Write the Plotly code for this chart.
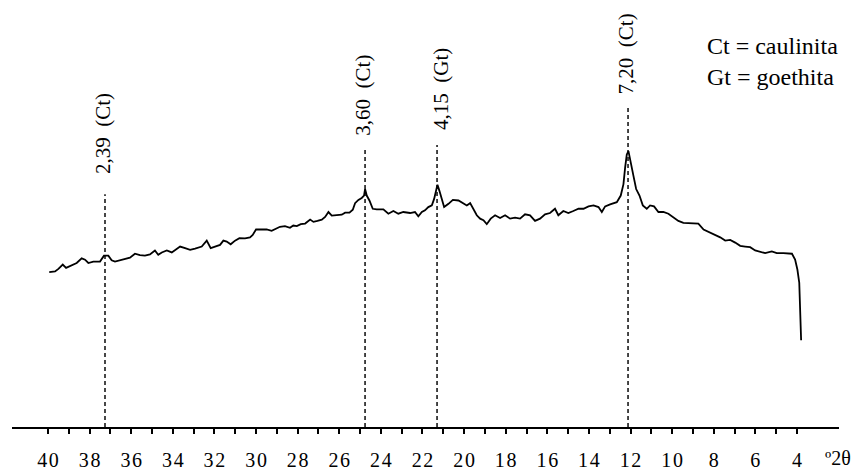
import plotly.graph_objects as go

# 2-theta (degrees) and intensity (arbitrary units)
two_theta = [39.94, 39.66, 39.50, 39.29, 39.13, 38.86, 38.62, 38.38, 38.22, 38.06,
             37.82, 37.50, 37.31, 37.10, 36.94, 36.78, 36.54, 36.30, 36.06, 35.82,
             35.58, 35.34, 35.10, 34.86, 34.70, 34.53, 34.29, 34.05, 33.85, 33.65,
             33.41, 33.17, 32.93, 32.61, 32.37, 32.18, 31.97, 31.73, 31.57, 31.41,
             31.22, 31.01, 30.80, 30.53, 30.29, 30.16, 30.00, 29.73, 29.49, 29.25,
             29.09, 28.85, 28.61, 28.37, 28.21, 28.04, 27.85, 27.64, 27.40, 27.24,
             27.05, 26.84, 26.68, 26.52, 26.36, 26.12, 25.88, 25.72, 25.51, 25.35,
             25.24, 25.08, 24.92, 24.81, 24.76, 24.68, 24.55, 24.39, 24.20, 23.88,
             23.64, 23.40, 23.16, 22.92, 22.60, 22.36, 22.20, 22.03, 21.88, 21.72,
             21.55, 21.44, 21.35, 21.28, 21.19, 21.07, 20.96, 20.75, 20.54, 20.27,
             20.03, 19.87, 19.71, 19.55, 19.39, 19.23, 19.07, 18.91, 18.72, 18.51,
             18.27, 18.03, 17.79, 17.55, 17.31, 17.07, 16.83, 16.59, 16.35, 16.11,
             15.87, 15.63, 15.47, 15.23, 14.99, 14.75, 14.50, 14.26, 14.02, 13.78,
             13.54, 13.38, 13.22, 12.98, 12.66, 12.47, 12.34, 12.26, 12.18, 12.10,
             11.99, 11.86, 11.73, 11.57, 11.41, 11.22, 11.06, 10.87, 10.66, 10.42,
             10.18, 9.94, 9.70, 9.46, 9.22, 8.98, 8.74, 8.49, 8.25, 7.93,
             7.69, 7.45, 7.21, 6.97, 6.73, 6.49, 6.25, 6.01, 5.77, 5.53,
             5.21, 4.97, 4.65, 4.24, 4.09, 3.98, 3.89, 3.85, 3.81, 3.80]
intensity = [157.0, 157.7, 160.3, 164.7, 161.3, 163.7, 166.3, 171.0, 169.7, 166.3,
             167.7, 167.7, 173.7, 173.7, 169.0, 167.7, 169.0, 171.0, 171.7, 175.7,
             174.3, 173.7, 175.0, 179.0, 174.7, 177.0, 179.0, 177.0, 179.7, 183.0,
             181.3, 179.7, 181.0, 183.0, 189.0, 181.3, 183.0, 184.7, 189.0, 188.0,
             185.3, 189.0, 191.5, 191.3, 192.3, 194.7, 200.3, 200.3, 200.3, 199.0,
             200.3, 203.0, 203.7, 202.0, 204.3, 203.7, 205.7, 206.3, 210.3, 208.0,
             209.0, 210.3, 213.0, 218.0, 214.3, 214.7, 215.3, 217.3, 217.3, 220.3,
             227.0, 230.3, 232.3, 234.7, 241.3, 234.7, 229.7, 221.3, 220.7, 220.7,
             216.3, 219.0, 216.3, 218.0, 217.0, 218.0, 213.7, 218.0, 219.7, 223.0,
             224.7, 231.3, 239.7, 245.7, 239.7, 231.3, 223.0, 226.3, 230.3, 229.7,
             227.0, 224.7, 227.0, 221.3, 214.7, 211.3, 209.7, 205.7, 211.3, 214.7,
             212.0, 214.7, 211.3, 212.3, 211.3, 215.7, 214.7, 209.0, 211.3, 215.7,
             217.0, 221.3, 214.7, 219.0, 217.0, 219.0, 221.3, 221.3, 223.7, 224.7,
             223.0, 218.0, 223.7, 225.7, 228.0, 234.7, 246.3, 263.0, 276.3, 279.7,
             269.7, 254.7, 241.3, 234.7, 224.7, 221.3, 224.7, 223.7, 218.0, 218.0,
             216.3, 213.0, 209.0, 207.0, 207.0, 206.3, 206.3, 200.3, 198.0, 194.7,
             192.3, 189.0, 189.7, 187.0, 183.7, 183.0, 182.3, 179.0, 178.0, 176.3,
             178.0, 176.3, 176.3, 175.7, 169.7, 159.7, 146.3, 126.3, 106.3, 88.0]

# Reflections (d-spacing labels), their 2-theta position and marker heights
peak_labels = ["2,39\u2002(Ct)", "3,60\u2002(Ct)", "4,15\u2002(Gt)", "7,20\u2002(Ct)"]
peak_positions = [37.26, 24.76, 21.30, 12.12]
peak_line_tops = [236, 283, 286, 326]
peak_label_x = [37.36, 24.86, 21.10, 12.21]
peak_label_y = [298, 337, 343, 378]

tick_values = list(range(4, 41))
tick_text = ["\u200a".join(str(v)) if v % 2 == 0 else "" for v in tick_values]

legend_lines = ["Ct = caulinita", "Gt = goethita"]
legend_y = [386, 355]

SERIF = "Liberation Serif, Times New Roman, serif"

fig = go.Figure()

for pos, top in zip(peak_positions, peak_line_tops):
    fig.add_trace(go.Scatter(
        x=[pos, pos], y=[0, top], mode="lines",
        line=dict(color="#333333", width=1.8, dash="4px,3px"),
        hoverinfo="skip", showlegend=False))

fig.add_trace(go.Scatter(
    x=two_theta, y=intensity, mode="lines",
    line=dict(color="black", width=1.8),
    showlegend=False))

for lab, lx, ly in zip(peak_labels, peak_label_x, peak_label_y):
    fig.add_annotation(x=lx, y=ly, xref="x", yref="y", text=lab,
                       textangle=-90, showarrow=False,
                       xanchor="center", yanchor="middle",
                       font=dict(family=SERIF, size=21, color="black"))

for txt, ly in zip(legend_lines, legend_y):
    fig.add_annotation(x=8.41, y=ly, xref="x", yref="y", text=txt,
                       showarrow=False, xanchor="left", yanchor="middle",
                       font=dict(family=SERIF, size=24, color="black"))

fig.add_annotation(x=1.0169, y=0, xref="paper", yref="paper", text="º2θ",
                   showarrow=False, xanchor="right", yanchor="middle",
                   yshift=-31, font=dict(family=SERIF, size=20, color="black"))

fig.update_xaxes(range=[41.73, 1.98], showline=True, linecolor="black",
                 linewidth=2, ticks="outside", ticklen=5, tickwidth=1.5,
                 tickcolor="black", tickvals=tick_values, ticktext=tick_text,
                 tickfont=dict(family=SERIF, size=20, color="black"),
                 showgrid=False, zeroline=False, ticklabelstandoff=9)
fig.update_yaxes(range=[0, 433], visible=False, showgrid=False, zeroline=False)

fig.update_layout(width=857, height=471,
                  margin=dict(l=12, r=18, t=0, b=38),
                  paper_bgcolor="white", plot_bgcolor="white")

fig.write_html("out.html")
